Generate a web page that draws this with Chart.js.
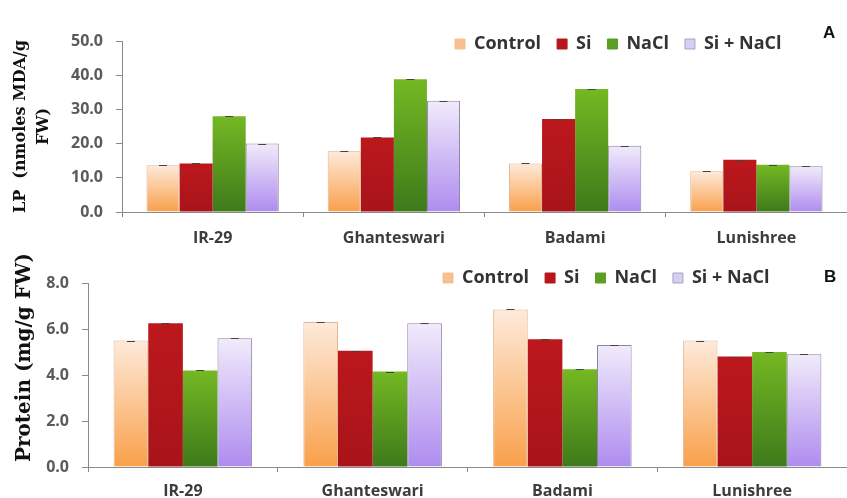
<!DOCTYPE html>
<html>
<head>
<meta charset="utf-8">
<script src="https://cdn.jsdelivr.net/npm/chart.js@4.4.1/dist/chart.umd.min.js"></script>
<style>
  body { margin: 0; background: #fff; }
  #wrap { position: relative; width: 847px; height: 498px; }
  #wrap canvas { position: absolute; left: 0; }
  .tag { position: absolute; font: bold 17px "Liberation Sans", Arial, sans-serif; color: #111; line-height: 1; }
</style>
</head>
<body>
<div id="wrap">
  <canvas id="lpChart" width="847" height="250" style="top:0"></canvas>
  <canvas id="proteinChart" width="847" height="248" style="top:250px"></canvas>
  <div class="tag" style="left:823px; top:24px">A</div>
  <div class="tag" style="left:824px; top:268px">B</div>
</div>
<script>
const cultivars = ['IR-29', 'Ghanteswari', 'Badami', 'Lunishree'];
const treatments = ['Control', 'Si', 'NaCl', 'Si + NaCl'];

// panel A: lipid peroxidation (nmoles MDA/g FW)
const lpControl = [13.7, 17.9, 14.2, 11.9];
const lpSi = [14.2, 21.8, 27.2, 15.3];
const lpNaCl = [28.0, 38.8, 36.0, 13.8];
const lpSiNaCl = [20.0, 32.5, 19.4, 13.4];

// panel B: protein (mg/g FW)
const protControl = [5.5, 6.3, 6.85, 5.5];
const protSi = [6.25, 5.05, 5.55, 4.8];
const protNaCl = [4.2, 4.15, 4.25, 5.0];
const protSiNaCl = [5.6, 6.25, 5.3, 4.9];

const lpMax = 50, lpStep = 10;
const protMax = 8, protStep = 2;

// colours per treatment: [top of bar, bottom of bar, border, legend swatch]
const looks = [
  ['#feeadb', '#f9a04a', '#e6b590', '#f8c08e'],
  ['#bb181d', '#a81419', '#a81419', '#b5171c'],
  ['#74b823', '#3e7a1b', '#4a8a1d', '#5c9f24'],
  ['#f1ebfb', '#ae8cef', '#8d83a8', '#d6cff0']
];

function barFill(top, bottom) {
  return function(ctx) {
    const chart = ctx.chart;
    const y = chart.scales.y;
    if (!y || !chart.chartArea || ctx.type !== 'data') return bottom;
    const yTop = y.getPixelForValue(ctx.raw);
    const yBase = y.getPixelForValue(0);
    if (!isFinite(yTop) || !isFinite(yBase) || yTop === yBase) return bottom;
    const g = chart.ctx.createLinearGradient(0, yTop, 0, yBase);
    g.addColorStop(0, top);
    g.addColorStop(1, bottom);
    return g;
  };
}

function makeSets(series) {
  return series.map((vals, i) => ({
    label: treatments[i],
    data: vals,
    backgroundColor: barFill(looks[i][0], looks[i][1]),
    borderColor: looks[i][2],
    borderWidth: i === 1 || i === 2 ? 0 : 1,
    borderSkipped: 'bottom'
  }));
}

// small caps at the top of every bar (error bars)
const errCaps = {
  id: 'errCaps',
  afterDatasetsDraw(chart) {
    const c = chart.ctx;
    c.save();
    c.strokeStyle = '#444';
    c.lineWidth = 1;
    chart.data.datasets.forEach((ds, i) => {
      chart.getDatasetMeta(i).data.forEach(bar => {
        c.beginPath();
        c.moveTo(bar.x - 4, Math.round(bar.y) + 0.5);
        c.lineTo(bar.x + 4, Math.round(bar.y) + 0.5);
        c.stroke();
      });
    });
    c.restore();
  }
};

// legend drawn as one row at a fixed spot inside the plot area
const legendSpot = {
  id: 'legendSpot',
  beforeLayout(chart) {
    if (chart.legend) chart.legend.isHorizontal = () => true;
  },
  afterLayout(chart, args, opts) {
    const lg = chart.legend;
    if (!lg) return;
    const pad = lg.options.labels.padding;
    const w = lg.right - lg.left;
    lg.left = opts.x - pad;
    lg.right = lg.left + w;
    lg.top = opts.y - pad;
    lg.bottom = lg.top + lg.height;
  }
};

function legendLabels(chart) {
  const items = Chart.defaults.plugins.legend.labels.generateLabels(chart);
  items.forEach((it, i) => {
    it.fillStyle = looks[i][3];
    it.strokeStyle = i === 3 ? '#a9a0c8' : looks[i][3];
    it.lineWidth = 1;
  });
  return items;
}

function buildChart(id, series, opt) {
  return new Chart(document.getElementById(id).getContext('2d'), {
    type: 'bar',
    data: { labels: cultivars, datasets: makeSets(series) },
    plugins: [errCaps, legendSpot],
    options: {
      responsive: false,
      animation: false,
      layout: { padding: { top: opt.top, left: 0, right: opt.right, bottom: 0 } },
      datasets: { bar: { categoryPercentage: 0.73, barPercentage: 1.0 } },
      plugins: {
        tooltip: { enabled: false },
        legendSpot: { x: opt.legendX, y: opt.legendY },
        legend: {
          position: 'chartArea',
          align: 'start',
          labels: {
            boxWidth: 10,
            boxHeight: 10,
            padding: 16,
            color: '#333',
            font: { family: '"Open Sans"', weight: 'bold', size: 18 },
            generateLabels: legendLabels
          }
        }
      },
      scales: {
        x: {
          afterFit(scale) { scale.height = opt.xHeight; },
          grid: { display: true, drawOnChartArea: false, offset: true, tickLength: 5, color: '#8a8a8a' },
          border: { display: true, color: '#8a8a8a' },
          ticks: {
            padding: opt.xPad,
            color: '#3c3c3c',
            font: { family: '"Open Sans"', weight: 'bold', size: 16 }
          }
        },
        y: {
          min: 0,
          max: opt.max,
          afterFit(scale) { scale.width = opt.yWidth; },
          grid: { display: true, drawOnChartArea: false, tickLength: 6, color: '#8a8a8a' },
          border: { display: true, color: '#8a8a8a' },
          ticks: {
            stepSize: opt.step,
            padding: 13,
            color: '#5a5a5a',
            font: { family: '"Open Sans"', weight: 'bold', size: 16 },
            callback: v => Number(v).toFixed(1)
          },
          title: {
            display: true,
            text: opt.title,
            color: '#111',
            padding: { top: opt.titlePad, bottom: 0 },
            font: { family: '"DejaVu Serif"', weight: 'bold', size: opt.titleSize, lineHeight: 1.45 }
          }
        }
      }
    }
  });
}

buildChart('lpChart', [lpControl, lpSi, lpNaCl, lpSiNaCl], {
  top: 41, right: -7, xHeight: 38, xPad: 12, yWidth: 122,
  max: lpMax, step: lpStep,
  title: ['LP  (nmoles MDA/g', 'FW)'], titleSize: 16, titlePad: 9,
  legendX: 455, legendY: 35
});

buildChart('proteinChart', [protControl, protSi, protNaCl, protSiNaCl], {
  top: 33, right: -1, xHeight: 31, xPad: 10, yWidth: 88,
  max: protMax, step: protStep,
  title: '     Protein (mg/g FW)', titleSize: 20, titlePad: 10,
  legendX: 443, legendY: 19
});
</script>
</body>
</html>
